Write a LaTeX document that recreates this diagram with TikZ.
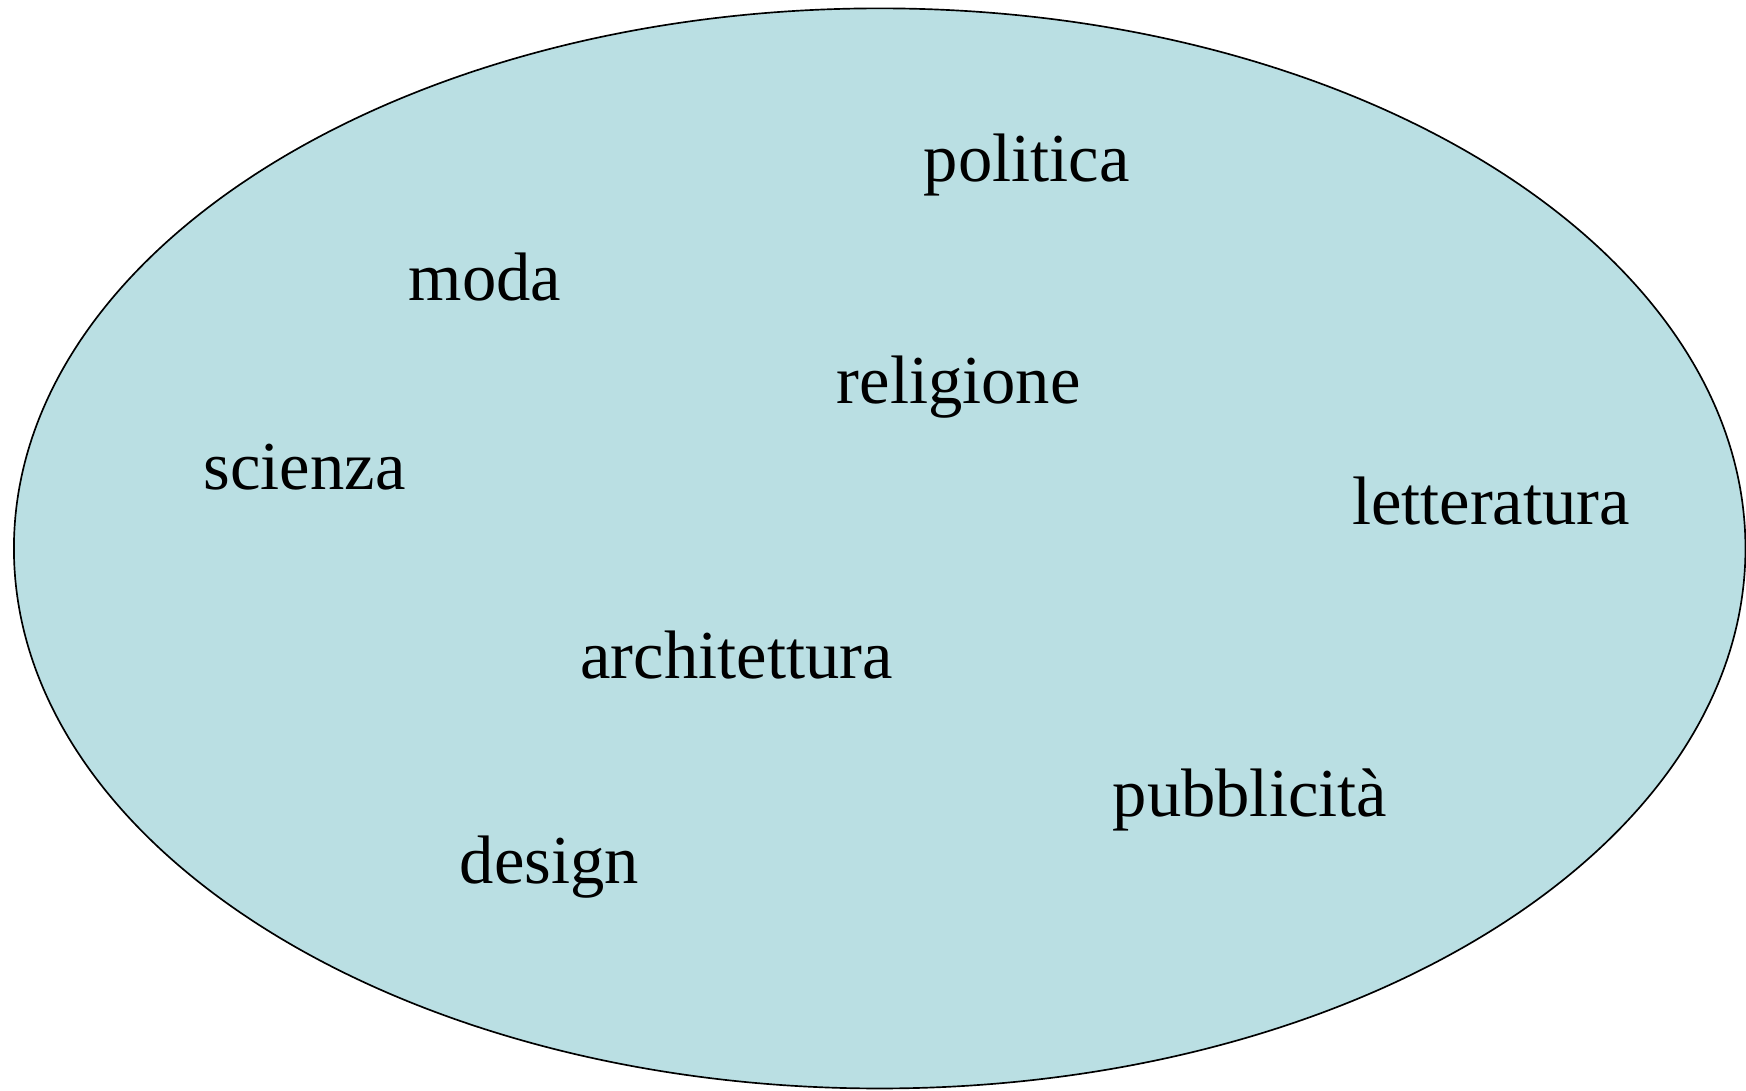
\documentclass[tikz,border=0pt]{standalone}
\usepackage{fontspec}
\setmainfont{Liberation Serif}
\begin{document}
\begin{tikzpicture}[x=1pt,y=-1pt,
  word/.style={anchor=base,inner sep=0pt,font=\fontsize{61.6}{70}\selectfont}]
\definecolor{bluefill}{HTML}{BADFE3}
\useasboundingbox (0,0) rectangle (1568,979);
\draw[fill=bluefill,line width=1.5pt] (790,492.5) ellipse [x radius=777.5, y radius=485];
\node[word] (politica) at (922,163) {politica};
\node[word] (moda) at (435.5,270) {moda};
\node[word] (religione) at (861,362) {religione};
\node[word] (scienza) at (273.5,440) {scienza};
\node[word] (letteratura) at (1339,471) {letteratura};
\node[word] (architettura) at (661.5,609) {architettura};
\node[word] (pubblicita) at (1122.5,733) {pubblicità};
\node[word] (design) at (493.5,793) {design};
\end{tikzpicture}
\end{document}
